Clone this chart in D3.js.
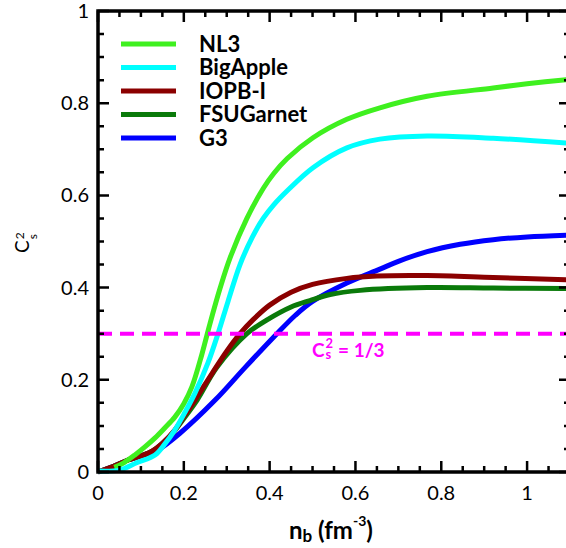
<!DOCTYPE html>
<html>
<head>
<meta charset="utf-8">
<script src="https://cdn.jsdelivr.net/npm/d3@7.9.0/dist/d3.min.js"></script>
<style>
  html, body { margin: 0; padding: 0; background: #fff; color: #000; }
  svg { display: block; font-family: Lato, "Open Sans", sans-serif; }
</style>
</head>
<body>
<svg id="chart" width="566" height="548"></svg>
<script>
// n_b (fm^-3) and C_s^2, one pair of arrays per model
const nl3N = [0.038, 0.06, 0.086, 0.11, 0.133, 0.155, 0.179, 0.2, 0.219, 0.242, 0.261, 0.285, 0.308, 0.347, 0.385, 0.41, 0.441, 0.501, 0.58, 0.657, 0.767, 0.921, 1.0, 1.1];
const nl3C = [0.01, 0.02, 0.037, 0.055, 0.074, 0.095, 0.119, 0.148, 0.185, 0.255, 0.322, 0.4, 0.465, 0.55, 0.615, 0.648, 0.68, 0.725, 0.765, 0.79, 0.815, 0.833, 0.842, 0.852];

const bigAppleN = [0, 0.05, 0.09, 0.133, 0.155, 0.179, 0.203, 0.226, 0.256, 0.28, 0.303, 0.331, 0.36, 0.385, 0.41, 0.441, 0.501, 0.58, 0.657, 0.767, 0.921, 1.1];
const bigAppleC = [0.002, 0.004, 0.02, 0.037, 0.06, 0.091, 0.13, 0.171, 0.236, 0.301, 0.37, 0.45, 0.51, 0.55, 0.58, 0.61, 0.66, 0.703, 0.722, 0.729, 0.724, 0.713];

const iopbN = [0, 0.035, 0.07, 0.1, 0.126, 0.15, 0.179, 0.2, 0.226, 0.266, 0.3, 0.331, 0.361, 0.4, 0.45, 0.5, 0.58, 0.65, 0.767, 0.921, 1.1];
const iopbC = [0, 0.012, 0.026, 0.035, 0.045, 0.062, 0.091, 0.12, 0.156, 0.214, 0.262, 0.3, 0.33, 0.362, 0.39, 0.407, 0.42, 0.425, 0.426, 0.422, 0.417];

const fsuN = [0, 0.035, 0.07, 0.1, 0.126, 0.15, 0.179, 0.2, 0.231, 0.277, 0.347, 0.394, 0.45, 0.494, 0.541, 0.611, 0.767, 0.921, 1.1];
const fsuC = [0, 0.012, 0.026, 0.035, 0.045, 0.062, 0.09, 0.116, 0.156, 0.227, 0.3, 0.33, 0.358, 0.372, 0.385, 0.394, 0.4, 0.399, 0.398];

const g3N = [0, 0.035, 0.07, 0.1, 0.126, 0.14, 0.191, 0.273, 0.343, 0.417, 0.46, 0.5, 0.58, 0.657, 0.7, 0.767, 0.844, 0.921, 1.0, 1.1];
const g3C = [0, 0.012, 0.026, 0.035, 0.043, 0.048, 0.084, 0.156, 0.227, 0.3, 0.34, 0.37, 0.41, 0.44, 0.457, 0.478, 0.494, 0.504, 0.51, 0.514];

const modelNames = ['NL3', 'BigApple', 'IOPB-I', 'FSUGarnet', 'G3'];
const modelColors = ['#3ff01f', '#00ffff', '#8b0000', '#0a7a0a', '#0000ff'];
const modelN = [nl3N, bigAppleN, iopbN, fsuN, g3N];
const modelC = [nl3C, bigAppleC, iopbC, fsuC, g3C];
const drawOrder = [4, 3, 2, 0, 1]; // G3 at the bottom, BigApple on top

const xTicks = [0, 0.2, 0.4, 0.6, 0.8, 1];
const yTicks = [0, 0.2, 0.4, 0.6, 0.8, 1];
const limitValue = 0.3; // dashed line sits at 0.3 in the figure
const limitText = ' = 1/3';

const svg = d3.select('#chart');
const x = d3.scaleLinear().domain([0, 1.1]).range([98, 570]);
const y = d3.scaleLinear().domain([0, 1]).range([472, 11]);
const xMinor = d3.range(0, 1.1001, 0.05);
const yMinor = d3.range(0, 1.0001, 0.05);

// curves
const line = d3.line()
  .x(d => x(d[0]))
  .y(d => y(d[1]))
  .curve(d3.curveCatmullRom.alpha(0.5));

drawOrder.forEach(i => {
  svg.append('path')
    .datum(d3.zip(modelN[i], modelC[i]))
    .attr('d', line)
    .attr('fill', 'none')
    .attr('stroke', modelColors[i])
    .attr('stroke-width', 5)
    .attr('stroke-linejoin', 'round');
});

// dashed C_s^2 = 1/3 line
svg.append('line')
  .attr('x1', x(0)).attr('x2', x(1.1))
  .attr('y1', y(limitValue)).attr('y2', y(limitValue))
  .attr('stroke', '#ff00ff')
  .attr('stroke-width', 4)
  .attr('stroke-dasharray', '14,8');

// tick labels
const fmt = d3.format('~g');
svg.append('g')
  .selectAll('text')
  .data(xTicks)
  .join('text')
  .attr('x', d => x(d))
  .attr('y', y(0) + 28)
  .attr('text-anchor', 'middle')
  .attr('font-size', 20)
  .text(fmt);

svg.append('g')
  .selectAll('text')
  .data(yTicks)
  .join('text')
  .attr('x', x(0) - 9)
  .attr('y', d => y(d))
  .attr('dy', '0.35em')
  .attr('text-anchor', 'end')
  .attr('font-size', 20)
  .text(fmt);

// frame
svg.append('rect')
  .attr('x', x(0)).attr('y', y(1))
  .attr('width', x(1.1) - x(0)).attr('height', y(0) - y(1))
  .attr('fill', 'none')
  .attr('stroke', '#000')
  .attr('stroke-width', 3.5);

// inward ticks on all four sides, one path
const isMajor = v => yTicks.some(t => Math.abs(t - v) < 1e-6);
const tickLen = v => (isMajor(v) ? 11 : 6);
const tickPath = d3.path();
xMinor.forEach(v => {
  tickPath.moveTo(x(v), y(0));
  tickPath.lineTo(x(v), y(0) - tickLen(v));
  tickPath.moveTo(x(v), y(1));
  tickPath.lineTo(x(v), y(1) + tickLen(v));
});
yMinor.forEach(v => {
  tickPath.moveTo(x(0), y(v));
  tickPath.lineTo(x(0) + tickLen(v), y(v));
  tickPath.moveTo(x(1.1), y(v));
  tickPath.lineTo(x(1.1) - tickLen(v), y(v));
});
svg.append('path')
  .attr('d', tickPath.toString())
  .attr('fill', 'none')
  .attr('stroke', '#000')
  .attr('stroke-width', 2.5);

// legend
const legend = svg.append('g').attr('transform', 'translate(121,44)');
modelNames.forEach((name, i) => {
  const row = legend.append('g').attr('transform', `translate(0,${i * 23.5})`);
  row.append('line')
    .attr('x1', 0).attr('x2', 55)
    .attr('stroke', modelColors[i])
    .attr('stroke-width', 5);
  row.append('text')
    .attr('x', 78).attr('dy', '0.36em')
    .attr('font-size', 22)
    .attr('font-weight', 'bold')
    .text(name);
});

// C with stacked superscript 2 and subscript s
function csLabel(g, size, weight, color, supSize, supShift, subShift) {
  const c = g.append('text').attr('font-size', size).attr('font-weight', weight)
    .attr('fill', color).text('C');
  const w = c.node().getComputedTextLength();
  g.append('text').attr('x', w + 1).attr('y', -supShift)
    .attr('font-size', supSize).attr('font-weight', weight).attr('fill', color).text('2');
  g.append('text').attr('x', w + 1).attr('y', subShift)
    .attr('font-size', supSize).attr('font-weight', weight).attr('fill', color).text('s');
  return w + 1 + supSize * 0.6;
}

// y title
const yTitle = svg.append('g').attr('transform', 'translate(29,253) rotate(-90)');
csLabel(yTitle, 19, 'normal', '#000', 12, 5, 8);

// label under the dashed line
const limitLabel = svg.append('g').attr('transform', 'translate(312,357)');
const afterC = csLabel(limitLabel, 19, 'bold', '#ff00ff', 13, 9, 2);
limitLabel.append('text')
  .attr('x', afterC)
  .attr('font-size', 19)
  .attr('font-weight', 'bold')
  .attr('fill', '#ff00ff')
  .attr('xml:space', 'preserve')
  .text(limitText);

// x title
const xTitle = svg.append('text')
  .attr('x', 289).attr('y', 539)
  .attr('font-size', 24)
  .attr('font-weight', 'bold');
xTitle.append('tspan').text('n');
xTitle.append('tspan').attr('font-size', 17).attr('dy', 3).text('b');
xTitle.append('tspan').attr('dy', -3).text('\u00a0(fm');
xTitle.append('tspan').attr('font-size', 14).attr('dy', -13).text('-3');
xTitle.append('tspan').attr('dy', 13).text(')');
</script>
</body>
</html>
